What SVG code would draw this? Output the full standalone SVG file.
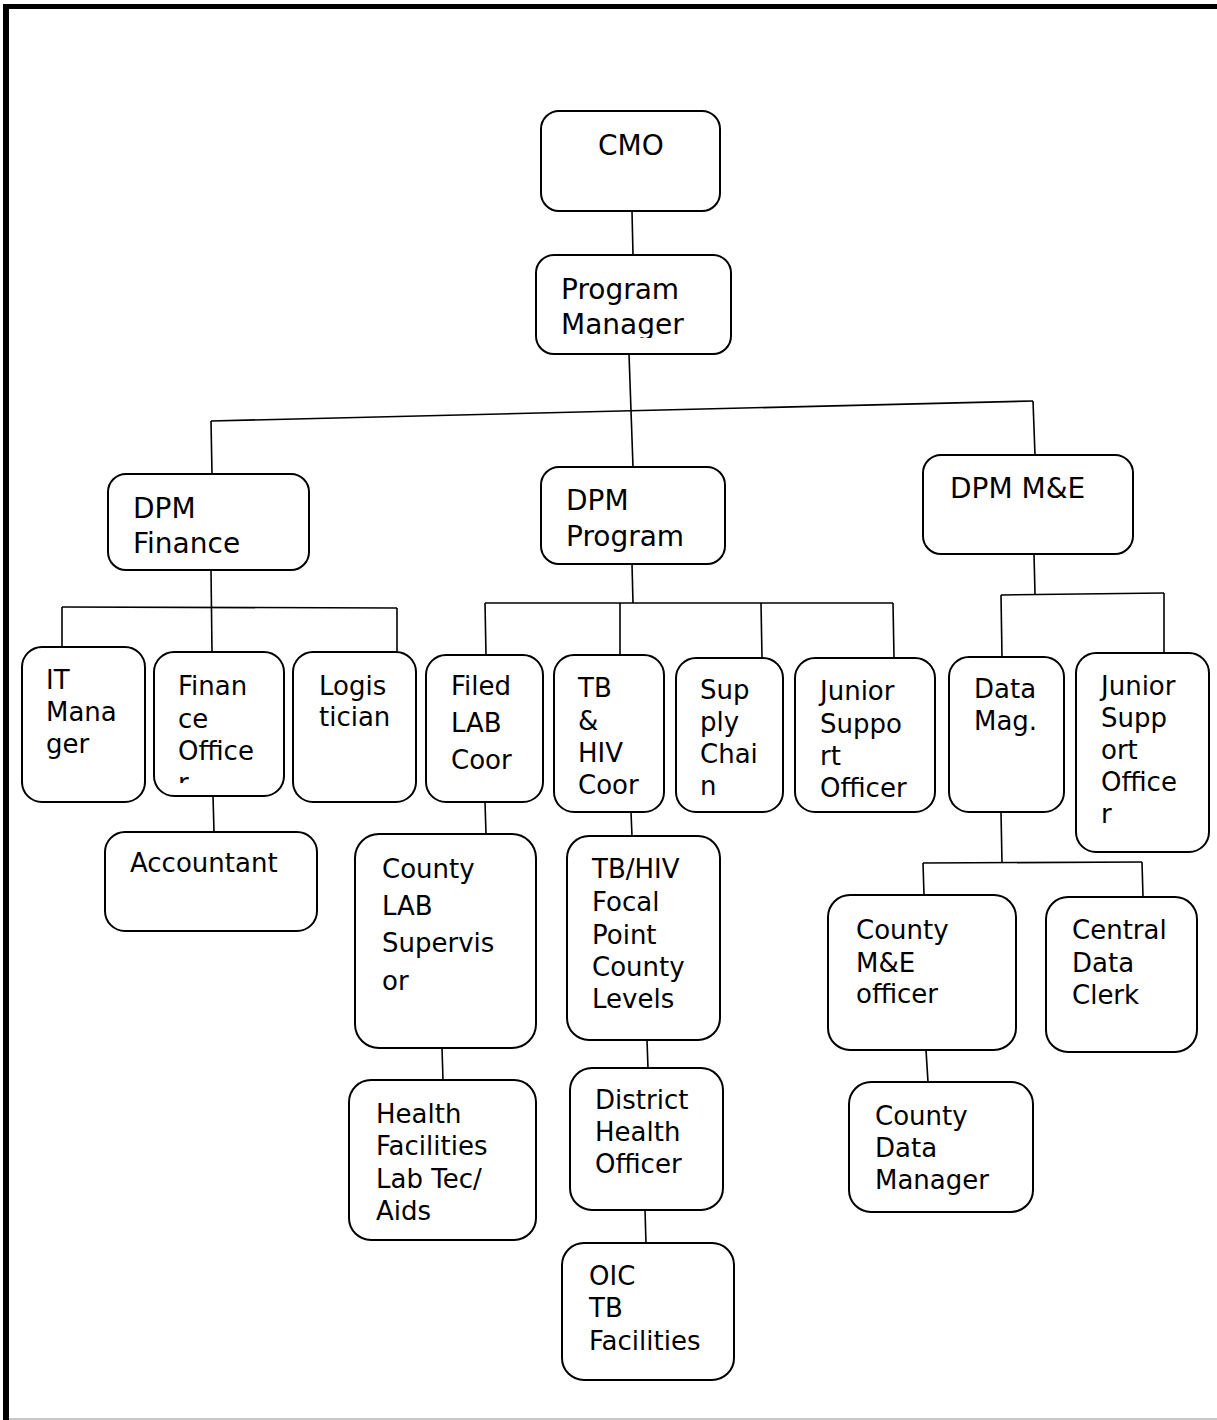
<svg xmlns="http://www.w3.org/2000/svg" width="1217" height="1420" viewBox="0 0 1217 1420">
<style>
.box{fill:#fff;stroke:#000;stroke-width:2}
.t{font-family:"DejaVu Sans",Verdana,sans-serif;font-size:26px;fill:#000}
.t28{font-family:"DejaVu Sans",Verdana,sans-serif;font-size:28px;fill:#000}
.c{stroke:#000;stroke-width:1.6;fill:none}
</style>
<defs>
<clipPath id="clipPM"><rect x="536" y="255" width="195" height="83"/></clipPath>
<clipPath id="clipFO"><rect x="154" y="652" width="130" height="131"/></clipPath>
</defs>
<rect x="0" y="0" width="1217" height="1420" fill="#fff"/>
<rect x="3" y="4" width="1214" height="5" fill="#000"/>
<rect x="3" y="4" width="6" height="1416" fill="#000"/>
<line x1="9" y1="1419" x2="1217" y2="1419" stroke="#c8c8c8" stroke-width="2"/>

<g id="connectors">
<path class="c" d="M632 211 L633 255"/>
<path class="c" d="M629 354 L633 467"/>
<path class="c" d="M211 421 L1033 401"/>
<path class="c" d="M211 421 L212 474"/>
<path class="c" d="M1033 401 L1035 455"/>
<path class="c" d="M211 570 L212 652"/>
<path class="c" d="M62 607 L397 608"/>
<path class="c" d="M62 607 L62 647"/>
<path class="c" d="M397 608 L397 652"/>
<path class="c" d="M213 796 L214 832"/>
<path class="c" d="M632 564 L633 603"/>
<path class="c" d="M485 603 L893 603"/>
<path class="c" d="M485 603 L486 655"/>
<path class="c" d="M620 603 L620 655"/>
<path class="c" d="M761 603 L762 658"/>
<path class="c" d="M893 603 L894 658"/>
<path class="c" d="M485 802 L486 834"/>
<path class="c" d="M442 1048 L443 1080"/>
<path class="c" d="M631 812 L632 836"/>
<path class="c" d="M647 1040 L648 1068"/>
<path class="c" d="M645 1210 L646 1243"/>
<path class="c" d="M1034 554 L1035 594"/>
<path class="c" d="M1001 595 L1164 593"/>
<path class="c" d="M1001 595 L1002 657"/>
<path class="c" d="M1164 593 L1164 653"/>
<path class="c" d="M1001 812 L1002 863"/>
<path class="c" d="M923 863 L1142 862"/>
<path class="c" d="M923 863 L924 895"/>
<path class="c" d="M1142 862 L1143 897"/>
<path class="c" d="M926 1050 L928 1082"/>
</g>

<g id="cmo"><rect class="box" x="541" y="111" width="179" height="100" rx="18"/>
<text class="t28" x="598" y="155">CMO</text></g>

<g id="program-manager"><rect class="box" x="536" y="255" width="195" height="99" rx="18"/>
<g clip-path="url(#clipPM)"><text class="t28" x="561" y="299">Program</text><text class="t28" x="561" y="334">Manager</text></g></g>

<g id="dpm-finance"><rect class="box" x="108" y="474" width="201" height="96" rx="18"/>
<text class="t28" x="133" y="518">DPM</text><text class="t28" x="133" y="553">Finance</text></g>

<g id="dpm-program"><rect class="box" x="541" y="467" width="184" height="97" rx="18"/>
<text class="t28" x="566" y="510">DPM</text><text class="t28" x="566" y="546">Program</text></g>

<g id="dpm-me"><rect class="box" x="923" y="455" width="210" height="99" rx="18"/>
<text class="t28" x="950" y="498">DPM M&amp;E</text></g>

<g id="it-manager"><rect class="box" x="22" y="647" width="123" height="155" rx="20"/>
<text class="t" x="46" y="689">IT</text><text class="t" x="46" y="721">Mana</text><text class="t" x="46" y="753">ger</text></g>

<g id="finance-officer"><rect class="box" x="154" y="652" width="130" height="144" rx="20"/>
<g clip-path="url(#clipFO)"><text class="t" x="178" y="695">Finan</text><text class="t" x="178" y="728">ce</text><text class="t" x="178" y="760">Office</text><text class="t" x="178" y="792">r</text></g></g>

<g id="logistician"><rect class="box" x="293" y="652" width="123" height="150" rx="20"/>
<text class="t" x="319" y="695">Logis</text><text class="t" x="319" y="726">tician</text></g>

<g id="accountant"><rect class="box" x="105" y="832" width="212" height="99" rx="20"/>
<text class="t" x="130" y="872">Accountant</text></g>

<g id="filed-lab-coor"><rect class="box" x="426" y="655" width="117" height="147" rx="20"/>
<text class="t" x="451" y="695">Filed</text><text class="t" x="451" y="732">LAB</text><text class="t" x="451" y="769">Coor</text></g>

<g id="tb-hiv-coor"><rect class="box" x="554" y="655" width="110" height="157" rx="20"/>
<text class="t" x="578" y="697">TB</text><text class="t" x="578" y="730">&amp;</text><text class="t" x="578" y="762">HIV</text><text class="t" x="578" y="794">Coor</text></g>

<g id="supply-chain"><rect class="box" x="676" y="658" width="107" height="154" rx="20"/>
<text class="t" x="700" y="699">Sup</text><text class="t" x="700" y="731">ply</text><text class="t" x="700" y="763">Chai</text><text class="t" x="700" y="795">n</text></g>

<g id="junior-support-officer"><rect class="box" x="795" y="658" width="140" height="154" rx="20"/>
<text class="t" x="820" y="700">Junior</text><text class="t" x="820" y="733">Suppo</text><text class="t" x="820" y="765">rt</text><text class="t" x="820" y="797">Officer</text></g>

<g id="data-mag"><rect class="box" x="949" y="657" width="115" height="155" rx="20"/>
<text class="t" x="974" y="698">Data</text><text class="t" x="974" y="730">Mag.</text></g>

<g id="junior-supp-officer-me"><rect class="box" x="1076" y="653" width="133" height="199" rx="20"/>
<text class="t" x="1101" y="695">Junior</text><text class="t" x="1101" y="727">Supp</text><text class="t" x="1101" y="759">ort</text><text class="t" x="1101" y="791">Office</text><text class="t" x="1101" y="823">r</text></g>

<g id="county-lab-supervisor"><rect class="box" x="355" y="834" width="181" height="214" rx="24"/>
<text class="t" x="382" y="878">County</text><text class="t" x="382" y="915">LAB</text><text class="t" x="382" y="952">Supervis</text><text class="t" x="382" y="990">or</text></g>

<g id="health-facilities"><rect class="box" x="349" y="1080" width="187" height="160" rx="22"/>
<text class="t" x="376" y="1123">Health</text><text class="t" x="376" y="1155">Facilities</text><text class="t" x="376" y="1188">Lab Tec/</text><text class="t" x="376" y="1220">Aids</text></g>

<g id="tb-hiv-focal"><rect class="box" x="567" y="836" width="153" height="204" rx="22"/>
<text class="t" x="592" y="878">TB/HIV</text><text class="t" x="592" y="911">Focal</text><text class="t" x="592" y="944">Point</text><text class="t" x="592" y="976">County</text><text class="t" x="592" y="1008">Levels</text></g>

<g id="district-health-officer"><rect class="box" x="570" y="1068" width="153" height="142" rx="22"/>
<text class="t" x="595" y="1109">District</text><text class="t" x="595" y="1141">Health</text><text class="t" x="595" y="1173">Officer</text></g>

<g id="oic-tb-facilities"><rect class="box" x="562" y="1243" width="172" height="137" rx="22"/>
<text class="t" x="589" y="1285">OIC</text><text class="t" x="589" y="1317">TB</text><text class="t" x="589" y="1350">Facilities</text></g>

<g id="county-me-officer"><rect class="box" x="828" y="895" width="188" height="155" rx="22"/>
<text class="t" x="856" y="939">County</text><text class="t" x="856" y="972">M&amp;E</text><text class="t" x="856" y="1003">officer</text></g>

<g id="central-data-clerk"><rect class="box" x="1046" y="897" width="151" height="155" rx="22"/>
<text class="t" x="1072" y="939">Central</text><text class="t" x="1072" y="972">Data</text><text class="t" x="1072" y="1004">Clerk</text></g>

<g id="county-data-manager"><rect class="box" x="849" y="1082" width="184" height="130" rx="22"/>
<text class="t" x="875" y="1125">County</text><text class="t" x="875" y="1157">Data</text><text class="t" x="875" y="1189">Manager</text></g>
</svg>
